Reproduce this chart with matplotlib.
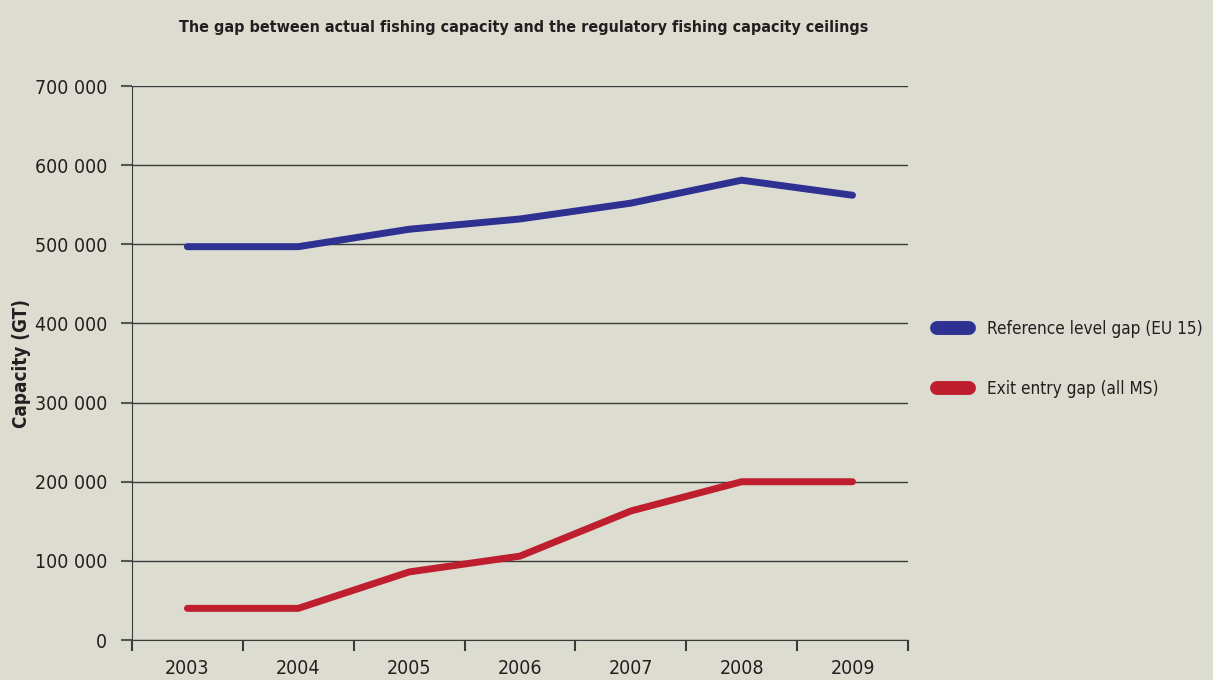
import matplotlib
matplotlib.use('Agg')
import matplotlib.pyplot as plt

years = ['2003', '2004', '2005', '2006', '2007', '2008', '2009']
reference_gap = [497000, 497000, 519000, 532000, 552000, 581000, 562000]
exit_entry_gap = [40000, 40000, 86000, 106000, 163000, 200000, 200000]
y_ticks = [0, 100000, 200000, 300000, 400000, 500000, 600000, 700000]
y_labels = ['0', '100 000', '200 000', '300 000', '400 000', '500 000', '600 000', '700 000']

BG = '#dcdcd1'
BLUE = '#2e3192'
RED = '#be1e2d'
INK = '#231f20'

plt.rcParams['font.family'] = ['DejaVu Sans']
plt.rcParams['font.stretch'] = 'condensed'

fig = plt.figure(figsize=(12.13, 6.80), dpi=100, facecolor=BG)
ax = fig.add_axes([0.1088, 0.0588, 0.6397, 0.8147])
ax.set_facecolor(BG)

x = list(range(len(years)))
ax.plot(x, reference_gap, color=BLUE, lw=5, solid_capstyle='round', zorder=3,
        label='Reference level gap (EU 15)')
ax.plot(x, exit_entry_gap, color=RED, lw=5, solid_capstyle='round', zorder=3,
        label='Exit entry gap (all MS)')

ax.set_xlim(-0.5, len(years) - 0.5)
ax.set_ylim(0, 700000)
ax.set_yticks(y_ticks)
ax.set_yticklabels(y_labels, fontsize=14, color=INK)
ax.set_xticks([i - 0.5 for i in range(len(years) + 1)])
ax.set_xticklabels([])
ax.set_xticks(x, minor=True)
ax.set_xticklabels(years, minor=True, fontsize=14, color=INK)
ax.tick_params(axis='x', which='major', direction='out', length=8, width=1.5, color='#3a3a3a')
ax.tick_params(axis='x', which='minor', length=0, pad=14)
ax.tick_params(axis='y', direction='out', length=8, width=1.5, color='#555555', pad=10)

ax.grid(axis='y', color='#3a3a3a', lw=1)
ax.set_axisbelow(True)
for side in ['top', 'right']:
    ax.spines[side].set_visible(False)
ax.spines['left'].set_color('#3a3a3a')
ax.spines['bottom'].set_color('#3a3a3a')

fig.text(22 / 1213, 0.466, 'Capacity (GT)', rotation=90, ha='center', va='center',
         fontsize=13.5, fontweight='bold', color=INK)
fig.text(0.432, 0.96, 'The gap between actual fishing capacity and the regulatory fishing capacity ceilings',
         ha='center', va='center', fontsize=11.5, fontweight='bold', color=INK)

leg = fig.legend(loc='center left', bbox_to_anchor=(937 / 1213, 0.472), frameon=False,
                 fontsize=12.3, handlelength=1.9, handletextpad=1.0, labelspacing=2.5,
                 borderaxespad=0, borderpad=0)
for line in leg.get_lines():
    line.set_linewidth(10)
    line.set_solid_capstyle('round')
for t in leg.get_texts():
    t.set_color(INK)

fig.savefig('out.png', dpi=100, facecolor=BG)
